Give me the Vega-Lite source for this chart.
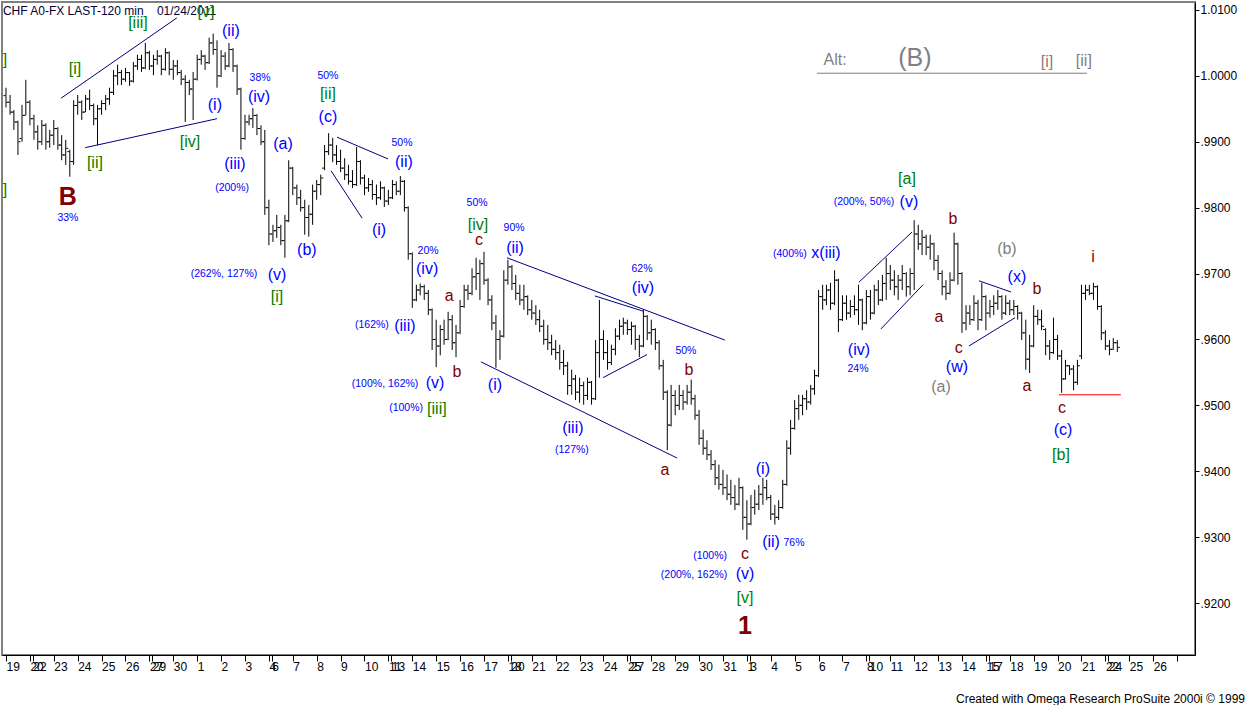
{
"$schema": "https://vega.github.io/schema/vega-lite/v6.json",
"width": 1193, "height": 653,
"autosize": {"type": "none"},
"padding": {"left": 2, "top": 2, "right": 54, "bottom": 50},
"background": "white",
"config": {"view": {"stroke": "#808080", "strokeWidth": 2}, "font": "Liberation Sans", "axis": {"labelOverlap": false}},
"title": {"text": "Created with Omega Research ProSuite 2000i © 1999", "orient": "bottom", "anchor": "end", "frame": "group", "fontSize": 12, "fontWeight": "normal", "font": "Liberation Sans Narrow, Liberation Sans", "color": "black", "offset": 22, "dx": 50},
"datasets": {
"bars": [
{"t":0,"o":0.997,"h":0.9982,"l":0.9952,"c":0.996},
{"t":0.17,"o":0.996,"h":0.9971,"l":0.9941,"c":0.9945},
{"t":0.33,"o":0.9945,"h":0.9948,"l":0.9918,"c":0.993},
{"t":0.5,"o":0.993,"h":0.9932,"l":0.988,"c":0.99},
{"t":0.67,"o":0.9905,"h":0.9956,"l":0.99,"c":0.994},
{"t":0.83,"o":0.994,"h":0.9994,"l":0.994,"c":0.996},
{"t":1,"o":0.996,"h":0.9963,"l":0.9925,"c":0.9935},
{"t":1.17,"o":0.9935,"h":0.9941,"l":0.9903,"c":0.9915},
{"t":1.33,"o":0.9915,"h":0.9925,"l":0.9888,"c":0.99},
{"t":1.5,"o":0.99,"h":0.9933,"l":0.9895,"c":0.9925},
{"t":1.67,"o":0.9925,"h":0.9928,"l":0.9888,"c":0.99},
{"t":1.83,"o":0.99,"h":0.9918,"l":0.9891,"c":0.991},
{"t":2,"o":0.991,"h":0.9933,"l":0.9895,"c":0.992},
{"t":2.17,"o":0.992,"h":0.9922,"l":0.9888,"c":0.9895},
{"t":2.33,"o":0.9895,"h":0.991,"l":0.9872,"c":0.988},
{"t":2.5,"o":0.988,"h":0.9903,"l":0.9865,"c":0.989},
{"t":2.67,"o":0.9885,"h":0.9888,"l":0.9847,"c":0.987},
{"t":2.83,"o":0.987,"h":0.9963,"l":0.9865,"c":0.9955},
{"t":3,"o":0.9955,"h":0.9971,"l":0.9941,"c":0.996},
{"t":3.17,"o":0.996,"h":0.9963,"l":0.9933,"c":0.9945},
{"t":3.33,"o":0.9945,"h":0.9971,"l":0.9945,"c":0.9965},
{"t":3.5,"o":0.9965,"h":0.9979,"l":0.9948,"c":0.9955},
{"t":3.67,"o":0.9955,"h":0.9958,"l":0.9925,"c":0.9935},
{"t":3.83,"o":0.9935,"h":0.9956,"l":0.9895,"c":0.995},
{"t":4,"o":0.995,"h":0.9963,"l":0.9941,"c":0.9958},
{"t":4.17,"o":0.9958,"h":0.9971,"l":0.9948,"c":0.9965},
{"t":4.33,"o":0.9965,"h":0.9982,"l":0.9956,"c":0.9975},
{"t":4.5,"o":0.9975,"h":1.0009,"l":0.9971,"c":1.0},
{"t":4.67,"o":1.0,"h":1.0017,"l":0.9986,"c":1.0005},
{"t":4.83,"o":1.0005,"h":1.0009,"l":0.9986,"c":0.9995},
{"t":5,"o":0.9995,"h":1.0012,"l":0.9991,"c":1.0005},
{"t":5.17,"o":1.0005,"h":1.0006,"l":0.9985,"c":0.9992},
{"t":5.33,"o":0.9992,"h":1.0021,"l":0.999,"c":1.0015},
{"t":5.5,"o":1.0015,"h":1.0032,"l":1.0009,"c":1.0025},
{"t":5.67,"o":1.0025,"h":1.0032,"l":1.0006,"c":1.0012},
{"t":5.83,"o":1.0012,"h":1.005,"l":1.001,"c":1.0035},
{"t":6,"o":1.0035,"h":1.0038,"l":1.0009,"c":1.0015},
{"t":6.17,"o":1.0015,"h":1.0032,"l":1.0001,"c":1.0025},
{"t":6.33,"o":1.0025,"h":1.0039,"l":1.0017,"c":1.003},
{"t":6.5,"o":1.003,"h":1.0032,"l":1.0001,"c":1.001},
{"t":6.67,"o":1.001,"h":1.0042,"l":1.0008,"c":1.0035},
{"t":6.83,"o":1.0035,"h":1.0037,"l":1.0001,"c":1.001},
{"t":7,"o":1.001,"h":1.0024,"l":0.9994,"c":1.0015},
{"t":7.17,"o":1.0015,"h":1.0024,"l":1.0001,"c":1.0005},
{"t":7.33,"o":1.0005,"h":1.0009,"l":0.9986,"c":0.9995},
{"t":7.5,"o":0.9995,"h":1.0001,"l":0.993,"c":0.999},
{"t":7.67,"o":0.999,"h":0.9994,"l":0.9971,"c":0.998},
{"t":7.83,"o":0.998,"h":1.0006,"l":0.9933,"c":0.9995},
{"t":8,"o":0.9995,"h":1.0032,"l":0.9993,"c":1.0025},
{"t":8.17,"o":1.0025,"h":1.0039,"l":1.0017,"c":1.003},
{"t":8.33,"o":1.003,"h":1.0032,"l":1.0009,"c":1.002},
{"t":8.5,"o":1.002,"h":1.0058,"l":1.0018,"c":1.005},
{"t":8.67,"o":1.005,"h":1.0064,"l":1.0032,"c":1.004},
{"t":8.83,"o":1.004,"h":1.0054,"l":0.9982,"c":1.0},
{"t":9,"o":1.0,"h":1.0039,"l":0.9998,"c":1.003},
{"t":9.17,"o":1.003,"h":1.0036,"l":1.0009,"c":1.0015},
{"t":9.33,"o":1.0015,"h":1.005,"l":1.0013,"c":1.004},
{"t":9.5,"o":1.004,"h":1.0042,"l":1.0006,"c":1.0015},
{"t":9.67,"o":1.0015,"h":1.0017,"l":0.9971,"c":0.998},
{"t":9.83,"o":0.998,"h":0.9982,"l":0.9888,"c":0.9905},
{"t":10,"o":0.9905,"h":0.9941,"l":0.9903,"c":0.993},
{"t":10.17,"o":0.993,"h":0.9941,"l":0.9925,"c":0.9935},
{"t":10.33,"o":0.9935,"h":0.9951,"l":0.9921,"c":0.994},
{"t":10.5,"o":0.994,"h":0.9942,"l":0.991,"c":0.992},
{"t":10.67,"o":0.992,"h":0.9925,"l":0.9895,"c":0.99},
{"t":10.83,"o":0.99,"h":0.9918,"l":0.9789,"c":0.98},
{"t":11,"o":0.98,"h":0.9812,"l":0.9743,"c":0.976},
{"t":11.17,"o":0.976,"h":0.9774,"l":0.9748,"c":0.9765},
{"t":11.33,"o":0.9765,"h":0.9789,"l":0.9754,"c":0.977},
{"t":11.5,"o":0.977,"h":0.9774,"l":0.9743,"c":0.975},
{"t":11.67,"o":0.975,"h":0.9789,"l":0.9724,"c":0.978},
{"t":11.83,"o":0.978,"h":0.9872,"l":0.9778,"c":0.986},
{"t":12,"o":0.986,"h":0.9862,"l":0.9819,"c":0.983},
{"t":12.17,"o":0.983,"h":0.9835,"l":0.9804,"c":0.9815},
{"t":12.33,"o":0.9815,"h":0.9827,"l":0.9794,"c":0.98},
{"t":12.5,"o":0.98,"h":0.9812,"l":0.9759,"c":0.9785},
{"t":12.67,"o":0.9785,"h":0.9804,"l":0.9756,"c":0.979},
{"t":12.83,"o":0.979,"h":0.9835,"l":0.9774,"c":0.9825},
{"t":13,"o":0.9825,"h":0.9842,"l":0.9812,"c":0.9835},
{"t":13.17,"o":0.9835,"h":0.985,"l":0.9819,"c":0.9845},
{"t":13.33,"o":0.986,"h":0.9895,"l":0.9857,"c":0.9885},
{"t":13.5,"o":0.9885,"h":0.9913,"l":0.988,"c":0.9895},
{"t":13.67,"o":0.9895,"h":0.9906,"l":0.9869,"c":0.988},
{"t":13.83,"o":0.988,"h":0.9895,"l":0.9865,"c":0.987},
{"t":14,"o":0.987,"h":0.9888,"l":0.9854,"c":0.986},
{"t":14.17,"o":0.986,"h":0.9875,"l":0.9842,"c":0.985},
{"t":14.33,"o":0.985,"h":0.9865,"l":0.9835,"c":0.984},
{"t":14.5,"o":0.984,"h":0.9857,"l":0.983,"c":0.9835},
{"t":14.67,"o":0.9835,"h":0.9892,"l":0.9833,"c":0.987},
{"t":14.83,"o":0.987,"h":0.9872,"l":0.9835,"c":0.9845},
{"t":15,"o":0.9845,"h":0.985,"l":0.9819,"c":0.983},
{"t":15.17,"o":0.983,"h":0.9845,"l":0.9824,"c":0.9835},
{"t":15.33,"o":0.9835,"h":0.9842,"l":0.9812,"c":0.982},
{"t":15.5,"o":0.982,"h":0.9835,"l":0.9804,"c":0.9815},
{"t":15.67,"o":0.9815,"h":0.984,"l":0.9812,"c":0.983},
{"t":15.83,"o":0.983,"h":0.9832,"l":0.9801,"c":0.981},
{"t":16,"o":0.981,"h":0.9827,"l":0.9804,"c":0.9815},
{"t":16.17,"o":0.9815,"h":0.9842,"l":0.9813,"c":0.9835},
{"t":16.33,"o":0.9835,"h":0.984,"l":0.9819,"c":0.9825},
{"t":16.5,"o":0.9825,"h":0.9848,"l":0.9819,"c":0.984},
{"t":16.67,"o":0.984,"h":0.9842,"l":0.9794,"c":0.98},
{"t":16.83,"o":0.98,"h":0.9802,"l":0.9721,"c":0.973},
{"t":17,"o":0.973,"h":0.9732,"l":0.9648,"c":0.966},
{"t":17.17,"o":0.966,"h":0.9683,"l":0.9658,"c":0.9675},
{"t":17.33,"o":0.9675,"h":0.9685,"l":0.9667,"c":0.968},
{"t":17.5,"o":0.968,"h":0.9683,"l":0.966,"c":0.967},
{"t":17.67,"o":0.967,"h":0.9675,"l":0.9637,"c":0.9645},
{"t":17.83,"o":0.9645,"h":0.9647,"l":0.9584,"c":0.96},
{"t":18,"o":0.96,"h":0.963,"l":0.9558,"c":0.959},
{"t":18.17,"o":0.959,"h":0.9622,"l":0.9576,"c":0.9615},
{"t":18.33,"o":0.9615,"h":0.963,"l":0.9592,"c":0.96},
{"t":18.5,"o":0.96,"h":0.9642,"l":0.9599,"c":0.963},
{"t":18.67,"o":0.963,"h":0.9637,"l":0.9584,"c":0.9595},
{"t":18.83,"o":0.9595,"h":0.9622,"l":0.9573,"c":0.961},
{"t":19,"o":0.961,"h":0.966,"l":0.9608,"c":0.965},
{"t":19.17,"o":0.965,"h":0.9683,"l":0.9648,"c":0.9675},
{"t":19.33,"o":0.9675,"h":0.9683,"l":0.966,"c":0.967},
{"t":19.5,"o":0.967,"h":0.9708,"l":0.9667,"c":0.9695},
{"t":19.67,"o":0.9695,"h":0.9724,"l":0.9675,"c":0.97},
{"t":19.83,"o":0.97,"h":0.9721,"l":0.966,"c":0.9715},
{"t":20,"o":0.9715,"h":0.9733,"l":0.9683,"c":0.969},
{"t":20.17,"o":0.969,"h":0.9693,"l":0.9652,"c":0.966},
{"t":20.33,"o":0.966,"h":0.9667,"l":0.9614,"c":0.9625},
{"t":20.5,"o":0.9625,"h":0.9637,"l":0.9557,"c":0.96},
{"t":20.67,"o":0.96,"h":0.9614,"l":0.9569,"c":0.9605},
{"t":20.83,"o":0.9605,"h":0.9705,"l":0.9603,"c":0.969},
{"t":21,"o":0.969,"h":0.9721,"l":0.9683,"c":0.971},
{"t":21.17,"o":0.971,"h":0.9713,"l":0.9675,"c":0.9685},
{"t":21.33,"o":0.9685,"h":0.9698,"l":0.966,"c":0.967},
{"t":21.5,"o":0.967,"h":0.9683,"l":0.9652,"c":0.966},
{"t":21.67,"o":0.966,"h":0.9683,"l":0.9645,"c":0.9665},
{"t":21.83,"o":0.9665,"h":0.9667,"l":0.9637,"c":0.9645},
{"t":22,"o":0.9645,"h":0.966,"l":0.963,"c":0.964},
{"t":22.17,"o":0.964,"h":0.9652,"l":0.9622,"c":0.963},
{"t":22.33,"o":0.963,"h":0.9645,"l":0.9611,"c":0.962},
{"t":22.5,"o":0.962,"h":0.963,"l":0.9592,"c":0.96},
{"t":22.67,"o":0.96,"h":0.9622,"l":0.9584,"c":0.9595},
{"t":22.83,"o":0.9595,"h":0.9607,"l":0.9576,"c":0.9585},
{"t":23,"o":0.9585,"h":0.9599,"l":0.9569,"c":0.958},
{"t":23.17,"o":0.958,"h":0.9592,"l":0.9554,"c":0.9565},
{"t":23.33,"o":0.9565,"h":0.9584,"l":0.9546,"c":0.956},
{"t":23.5,"o":0.956,"h":0.9566,"l":0.9516,"c":0.953},
{"t":23.67,"o":0.953,"h":0.9554,"l":0.9516,"c":0.954},
{"t":23.83,"o":0.954,"h":0.9546,"l":0.9508,"c":0.952},
{"t":24,"o":0.952,"h":0.9542,"l":0.9504,"c":0.953},
{"t":24.17,"o":0.953,"h":0.9536,"l":0.9501,"c":0.9515},
{"t":24.33,"o":0.9515,"h":0.9542,"l":0.9508,"c":0.9535},
{"t":24.5,"o":0.9535,"h":0.9537,"l":0.9501,"c":0.951},
{"t":24.67,"o":0.951,"h":0.9599,"l":0.9508,"c":0.958},
{"t":24.83,"o":0.958,"h":0.966,"l":0.9542,"c":0.96},
{"t":25,"o":0.96,"h":0.9614,"l":0.9569,"c":0.958},
{"t":25.17,"o":0.958,"h":0.9599,"l":0.9554,"c":0.9565},
{"t":25.33,"o":0.9565,"h":0.9592,"l":0.9561,"c":0.9585},
{"t":25.5,"o":0.9585,"h":0.9617,"l":0.9576,"c":0.9605},
{"t":25.67,"o":0.9605,"h":0.963,"l":0.9599,"c":0.962},
{"t":25.83,"o":0.962,"h":0.9633,"l":0.9607,"c":0.9625},
{"t":26,"o":0.9625,"h":0.963,"l":0.9607,"c":0.9615},
{"t":26.17,"o":0.9615,"h":0.9627,"l":0.9592,"c":0.962},
{"t":26.33,"o":0.962,"h":0.9622,"l":0.9584,"c":0.96},
{"t":26.5,"o":0.96,"h":0.9607,"l":0.9573,"c":0.959},
{"t":26.67,"o":0.959,"h":0.9645,"l":0.9588,"c":0.9635},
{"t":26.83,"o":0.9635,"h":0.9637,"l":0.9599,"c":0.961},
{"t":27,"o":0.961,"h":0.963,"l":0.9592,"c":0.9615},
{"t":27.17,"o":0.9615,"h":0.9617,"l":0.9584,"c":0.9595},
{"t":27.33,"o":0.9595,"h":0.9599,"l":0.9554,"c":0.956},
{"t":27.5,"o":0.956,"h":0.9569,"l":0.9508,"c":0.952},
{"t":27.67,"o":0.952,"h":0.9523,"l":0.9432,"c":0.947},
{"t":27.83,"o":0.947,"h":0.9531,"l":0.9468,"c":0.9515},
{"t":28,"o":0.9515,"h":0.9523,"l":0.9485,"c":0.95},
{"t":28.17,"o":0.95,"h":0.9531,"l":0.9493,"c":0.9515},
{"t":28.33,"o":0.9515,"h":0.9523,"l":0.9493,"c":0.9505},
{"t":28.5,"o":0.9505,"h":0.9531,"l":0.9501,"c":0.952},
{"t":28.67,"o":0.952,"h":0.9539,"l":0.9501,"c":0.951},
{"t":28.83,"o":0.951,"h":0.9516,"l":0.9478,"c":0.9485},
{"t":29,"o":0.9485,"h":0.9493,"l":0.944,"c":0.945},
{"t":29.17,"o":0.945,"h":0.9463,"l":0.9425,"c":0.9435},
{"t":29.33,"o":0.9435,"h":0.9447,"l":0.9417,"c":0.9425},
{"t":29.5,"o":0.9425,"h":0.9432,"l":0.9402,"c":0.941},
{"t":29.67,"o":0.941,"h":0.9417,"l":0.9379,"c":0.939},
{"t":29.83,"o":0.939,"h":0.941,"l":0.9372,"c":0.938},
{"t":30,"o":0.938,"h":0.9402,"l":0.9364,"c":0.9375},
{"t":30.17,"o":0.9375,"h":0.9395,"l":0.9356,"c":0.9365},
{"t":30.33,"o":0.9365,"h":0.9387,"l":0.9349,"c":0.936},
{"t":30.5,"o":0.936,"h":0.9379,"l":0.9341,"c":0.935},
{"t":30.67,"o":0.935,"h":0.939,"l":0.9348,"c":0.9375},
{"t":30.83,"o":0.9375,"h":0.9377,"l":0.9311,"c":0.933},
{"t":31,"o":0.933,"h":0.9356,"l":0.9296,"c":0.932},
{"t":31.17,"o":0.932,"h":0.9364,"l":0.9318,"c":0.9345},
{"t":31.33,"o":0.9345,"h":0.9372,"l":0.9334,"c":0.935},
{"t":31.5,"o":0.935,"h":0.9379,"l":0.9341,"c":0.9365},
{"t":31.67,"o":0.9365,"h":0.939,"l":0.9349,"c":0.9375},
{"t":31.83,"o":0.9375,"h":0.9387,"l":0.9356,"c":0.936},
{"t":32,"o":0.936,"h":0.9364,"l":0.9326,"c":0.9335},
{"t":32.17,"o":0.9335,"h":0.9349,"l":0.9319,"c":0.933},
{"t":32.33,"o":0.933,"h":0.9356,"l":0.9326,"c":0.9345},
{"t":32.5,"o":0.9345,"h":0.9387,"l":0.9343,"c":0.938},
{"t":32.67,"o":0.938,"h":0.9447,"l":0.9378,"c":0.9435},
{"t":32.83,"o":0.9435,"h":0.9478,"l":0.9425,"c":0.9465},
{"t":33,"o":0.9465,"h":0.9508,"l":0.9463,"c":0.9495},
{"t":33.17,"o":0.9495,"h":0.9516,"l":0.9478,"c":0.95},
{"t":33.33,"o":0.95,"h":0.9516,"l":0.9485,"c":0.951},
{"t":33.5,"o":0.951,"h":0.9523,"l":0.9493,"c":0.9505},
{"t":33.67,"o":0.9505,"h":0.9531,"l":0.9501,"c":0.9525},
{"t":33.83,"o":0.9525,"h":0.9554,"l":0.9516,"c":0.9545},
{"t":34,"o":0.9545,"h":0.9675,"l":0.9543,"c":0.9665},
{"t":34.17,"o":0.9665,"h":0.9683,"l":0.9645,"c":0.966},
{"t":34.33,"o":0.966,"h":0.9683,"l":0.9652,"c":0.9675},
{"t":34.5,"o":0.9675,"h":0.9686,"l":0.9645,"c":0.9655},
{"t":34.67,"o":0.9655,"h":0.9705,"l":0.9652,"c":0.969},
{"t":34.83,"o":0.969,"h":0.9692,"l":0.9611,"c":0.963},
{"t":35,"o":0.963,"h":0.9667,"l":0.9628,"c":0.9655},
{"t":35.17,"o":0.9655,"h":0.9667,"l":0.963,"c":0.964},
{"t":35.33,"o":0.964,"h":0.966,"l":0.9633,"c":0.965},
{"t":35.5,"o":0.965,"h":0.9667,"l":0.9637,"c":0.9645},
{"t":35.67,"o":0.9645,"h":0.9683,"l":0.9622,"c":0.966},
{"t":35.83,"o":0.966,"h":0.9662,"l":0.9614,"c":0.9625},
{"t":36,"o":0.9625,"h":0.9675,"l":0.9623,"c":0.9665},
{"t":36.17,"o":0.9665,"h":0.9675,"l":0.963,"c":0.964},
{"t":36.33,"o":0.964,"h":0.9683,"l":0.9638,"c":0.9675},
{"t":36.5,"o":0.9675,"h":0.969,"l":0.9652,"c":0.966},
{"t":36.67,"o":0.966,"h":0.9698,"l":0.9658,"c":0.9685},
{"t":36.83,"o":0.9685,"h":0.9724,"l":0.966,"c":0.97},
{"t":37,"o":0.97,"h":0.9713,"l":0.9675,"c":0.969},
{"t":37.17,"o":0.969,"h":0.9705,"l":0.9667,"c":0.968},
{"t":37.33,"o":0.968,"h":0.9698,"l":0.966,"c":0.969},
{"t":37.5,"o":0.969,"h":0.9713,"l":0.9675,"c":0.97},
{"t":37.67,"o":0.97,"h":0.9702,"l":0.9665,"c":0.968},
{"t":37.83,"o":0.968,"h":0.9708,"l":0.9667,"c":0.97},
{"t":38,"o":0.97,"h":0.9781,"l":0.9675,"c":0.976},
{"t":38.17,"o":0.976,"h":0.9774,"l":0.9736,"c":0.9745},
{"t":38.33,"o":0.9745,"h":0.9766,"l":0.9728,"c":0.9755},
{"t":38.5,"o":0.9755,"h":0.9759,"l":0.9728,"c":0.974},
{"t":38.67,"o":0.974,"h":0.9759,"l":0.9721,"c":0.9745},
{"t":38.83,"o":0.9745,"h":0.9747,"l":0.9705,"c":0.972},
{"t":39,"o":0.972,"h":0.9728,"l":0.969,"c":0.97},
{"t":39.17,"o":0.97,"h":0.9705,"l":0.9667,"c":0.968},
{"t":39.33,"o":0.968,"h":0.969,"l":0.966,"c":0.967},
{"t":39.5,"o":0.967,"h":0.9702,"l":0.9668,"c":0.969},
{"t":39.67,"o":0.969,"h":0.9762,"l":0.9688,"c":0.9745},
{"t":39.83,"o":0.9745,"h":0.9747,"l":0.9683,"c":0.97},
{"t":40,"o":0.97,"h":0.9702,"l":0.961,"c":0.9625},
{"t":40.17,"o":0.9625,"h":0.9652,"l":0.9614,"c":0.964},
{"t":40.33,"o":0.964,"h":0.9652,"l":0.9622,"c":0.963},
{"t":40.5,"o":0.963,"h":0.9667,"l":0.9628,"c":0.9655},
{"t":40.67,"o":0.9655,"h":0.966,"l":0.9614,"c":0.963},
{"t":40.83,"o":0.963,"h":0.9686,"l":0.9628,"c":0.9665},
{"t":41,"o":0.9665,"h":0.9667,"l":0.9614,"c":0.964},
{"t":41.17,"o":0.964,"h":0.966,"l":0.9633,"c":0.965},
{"t":41.33,"o":0.965,"h":0.9667,"l":0.9637,"c":0.9655},
{"t":41.5,"o":0.9655,"h":0.9675,"l":0.9645,"c":0.9665},
{"t":41.67,"o":0.9665,"h":0.9667,"l":0.963,"c":0.964},
{"t":41.83,"o":0.964,"h":0.9667,"l":0.9637,"c":0.9655},
{"t":42,"o":0.9655,"h":0.966,"l":0.9637,"c":0.9645},
{"t":42.17,"o":0.9645,"h":0.966,"l":0.9637,"c":0.965},
{"t":42.33,"o":0.965,"h":0.9652,"l":0.963,"c":0.964},
{"t":42.5,"o":0.964,"h":0.9642,"l":0.9599,"c":0.961},
{"t":42.67,"o":0.961,"h":0.963,"l":0.9554,"c":0.957},
{"t":42.83,"o":0.957,"h":0.9607,"l":0.9549,"c":0.959},
{"t":43,"o":0.959,"h":0.9652,"l":0.9588,"c":0.9635},
{"t":43.17,"o":0.9635,"h":0.9645,"l":0.9622,"c":0.963},
{"t":43.33,"o":0.963,"h":0.9645,"l":0.9614,"c":0.962},
{"t":43.5,"o":0.9615,"h":0.9617,"l":0.9576,"c":0.959},
{"t":43.67,"o":0.959,"h":0.9599,"l":0.9569,"c":0.958},
{"t":43.83,"o":0.958,"h":0.9633,"l":0.9578,"c":0.96},
{"t":44,"o":0.96,"h":0.9607,"l":0.9569,"c":0.9575},
{"t":44.17,"o":0.9575,"h":0.9584,"l":0.9519,"c":0.954},
{"t":44.33,"o":0.954,"h":0.9569,"l":0.9539,"c":0.956},
{"t":44.5,"o":0.956,"h":0.9561,"l":0.9546,"c":0.9555},
{"t":44.67,"o":0.9555,"h":0.9561,"l":0.9523,"c":0.9535},
{"t":44.83,"o":0.9535,"h":0.9569,"l":0.9531,"c":0.956},
{"t":45,"o":0.9575,"h":0.9683,"l":0.957,"c":0.967},
{"t":45.17,"o":0.967,"h":0.9683,"l":0.966,"c":0.9675},
{"t":45.33,"o":0.9675,"h":0.9683,"l":0.9667,"c":0.967},
{"t":45.5,"o":0.967,"h":0.9686,"l":0.966,"c":0.968},
{"t":45.67,"o":0.968,"h":0.9682,"l":0.9645,"c":0.965},
{"t":45.83,"o":0.965,"h":0.9652,"l":0.9599,"c":0.961},
{"t":46,"o":0.961,"h":0.9614,"l":0.9584,"c":0.959},
{"t":46.17,"o":0.959,"h":0.9599,"l":0.9576,"c":0.9585},
{"t":46.33,"o":0.9585,"h":0.9602,"l":0.9584,"c":0.9595},
{"t":46.5,"o":0.9595,"h":0.9599,"l":0.9581,"c":0.9588}
],
"lines": [
{"id":1,"k":"n","t":2.30,"p":0.9966},{"id":1,"k":"n","t":7.15,"p":1.0088},
{"id":2,"k":"n","t":3.31,"p":0.9891},{"id":2,"k":"n","t":8.83,"p":0.9935},
{"id":3,"k":"n","t":13.85,"p":0.9907},{"id":3,"k":"n","t":15.98,"p":0.9874},
{"id":4,"k":"n","t":13.60,"p":0.9856},{"id":4,"k":"n","t":14.90,"p":0.9784},
{"id":5,"k":"n","t":20.96,"p":0.9724},{"id":5,"k":"n","t":30.08,"p":0.9599},
{"id":6,"k":"n","t":19.87,"p":0.9566},{"id":6,"k":"n","t":28.08,"p":0.9420},
{"id":7,"k":"n","t":24.64,"p":0.9666},{"id":7,"k":"n","t":26.65,"p":0.9643},
{"id":8,"k":"n","t":24.98,"p":0.9542},{"id":8,"k":"n","t":26.82,"p":0.9577},
{"id":9,"k":"n","t":35.69,"p":0.9687},{"id":9,"k":"n","t":37.91,"p":0.9763},
{"id":10,"k":"n","t":36.61,"p":0.9616},{"id":10,"k":"n","t":38.37,"p":0.9683},
{"id":11,"k":"n","t":40.71,"p":0.9689},{"id":11,"k":"n","t":42.05,"p":0.9672},
{"id":12,"k":"n","t":40.29,"p":0.9590},{"id":12,"k":"n","t":42.22,"p":0.9633},
{"id":13,"k":"r","t":44.06,"p":0.9516},{"id":13,"k":"r","t":46.65,"p":0.9516},
{"id":14,"k":"g","t":33.93,"p":1.0004},{"id":14,"k":"g","t":45.23,"p":1.0004}
],
"labels": [
{"k":"T","t":-0.13,"p":1.0099,"s":"CHF A0-FX LAST-120 min\u00a0\u00a0\u00a0\u00a001/24/2011"},
{"k":"g","t":-0.04,"p":1.0024,"s":"]"},
{"k":"g","t":-0.04,"p":0.9827,"s":"]"},
{"k":"g","t":5.52,"p":1.0080,"s":"[iii]"},
{"k":"g","t":8.37,"p":1.0097,"s":"[v]"},
{"k":"g","t":2.89,"p":1.001,"s":"[i]"},
{"k":"g","t":13.47,"p":0.9973,"s":"[ii]"},
{"k":"g","t":7.7,"p":0.99,"s":"[iv]"},
{"k":"g","t":3.72,"p":0.9868,"s":"[ii]"},
{"k":"g","t":11.34,"p":0.9665,"s":"[i]"},
{"k":"g","t":18.03,"p":0.9495,"s":"[iii]"},
{"k":"g","t":19.75,"p":0.9774,"s":"[iv]"},
{"k":"g","t":30.92,"p":0.9208,"s":"[v]"},
{"k":"g","t":37.7,"p":0.9844,"s":"[a]"},
{"k":"g","t":44.14,"p":0.9425,"s":"[b]"},
{"k":"b","t":9.41,"p":1.0068,"s":"(ii)"},
{"k":"b","t":10.59,"p":0.9968,"s":"(iv)"},
{"k":"b","t":8.74,"p":0.9956,"s":"(i)"},
{"k":"b","t":13.47,"p":0.9938,"s":"(c)"},
{"k":"b","t":11.59,"p":0.9897,"s":"(a)"},
{"k":"b","t":16.65,"p":0.987,"s":"(ii)"},
{"k":"b","t":9.58,"p":0.9866,"s":"(iii)"},
{"k":"b","t":15.61,"p":0.9766,"s":"(i)"},
{"k":"b","t":12.59,"p":0.9736,"s":"(b)"},
{"k":"b","t":11.34,"p":0.9698,"s":"(v)"},
{"k":"b","t":16.69,"p":0.9621,"s":"(iii)"},
{"k":"b","t":17.95,"p":0.9534,"s":"(v)"},
{"k":"b","t":21.3,"p":0.9739,"s":"(ii)"},
{"k":"b","t":17.62,"p":0.9707,"s":"(iv)"},
{"k":"b","t":26.65,"p":0.9678,"s":"(iv)"},
{"k":"b","t":20.46,"p":0.9531,"s":"(i)"},
{"k":"b","t":34.31,"p":0.9731,"s":"x(iii)"},
{"k":"b","t":23.72,"p":0.9466,"s":"(iii)"},
{"k":"b","t":31.67,"p":0.9403,"s":"(i)"},
{"k":"b","t":32.01,"p":0.9293,"s":"(ii)"},
{"k":"b","t":30.92,"p":0.9244,"s":"(v)"},
{"k":"b","t":37.78,"p":0.9809,"s":"(v)"},
{"k":"b","t":42.3,"p":0.9695,"s":"(x)"},
{"k":"b","t":35.69,"p":0.9584,"s":"(iv)"},
{"k":"b","t":39.79,"p":0.9558,"s":"(w)"},
{"k":"b","t":44.23,"p":0.9463,"s":"(c)"},
{"k":"p","t":10.63,"p":0.9997,"s":"38%"},
{"k":"p","t":13.47,"p":1.0,"s":"50%"},
{"k":"p","t":16.57,"p":0.9898,"s":"50%"},
{"k":"p","t":9.46,"p":0.983,"s":"(200%)"},
{"k":"p","t":2.59,"p":0.9785,"s":"33%"},
{"k":"p","t":9.12,"p":0.9699,"s":"(262%, 127%)"},
{"k":"p","t":15.31,"p":0.9622,"s":"(162%)"},
{"k":"p","t":15.86,"p":0.9532,"s":"(100%, 162%)"},
{"k":"p","t":16.74,"p":0.9496,"s":"(100%)"},
{"k":"p","t":19.71,"p":0.9807,"s":"50%"},
{"k":"p","t":21.26,"p":0.9769,"s":"90%"},
{"k":"p","t":17.66,"p":0.9734,"s":"20%"},
{"k":"p","t":26.61,"p":0.9707,"s":"62%"},
{"k":"p","t":28.45,"p":0.9583,"s":"50%"},
{"k":"p","t":32.8,"p":0.973,"s":"(400%)"},
{"k":"p","t":23.68,"p":0.9432,"s":"(127%)"},
{"k":"p","t":32.97,"p":0.9291,"s":"76%"},
{"k":"p","t":29.46,"p":0.9272,"s":"(100%)"},
{"k":"p","t":28.79,"p":0.9243,"s":"(200%, 162%)"},
{"k":"p","t":35.9,"p":0.9809,"s":"(200%, 50%)"},
{"k":"p","t":35.65,"p":0.9555,"s":"24%"},
{"k":"r","t":19.79,"p":0.9751,"s":"c"},
{"k":"r","t":18.54,"p":0.9666,"s":"a"},
{"k":"r","t":18.87,"p":0.9551,"s":"b"},
{"k":"r","t":28.58,"p":0.9554,"s":"b"},
{"k":"r","t":27.57,"p":0.9402,"s":"a"},
{"k":"r","t":30.92,"p":0.9275,"s":"c"},
{"k":"r","t":39.62,"p":0.9783,"s":"b"},
{"k":"r","t":45.48,"p":0.9725,"s":"i"},
{"k":"r","t":43.14,"p":0.9677,"s":"b"},
{"k":"r","t":39.04,"p":0.9634,"s":"a"},
{"k":"r","t":39.87,"p":0.9587,"s":"c"},
{"k":"r","t":42.72,"p":0.9529,"s":"a"},
{"k":"r","t":44.18,"p":0.9496,"s":"c"},
{"k":"R","t":2.59,"p":0.9816,"s":"B"},
{"k":"R","t":30.92,"p":0.9165,"s":"1"},
{"k":"y","t":34.69,"p":1.0024,"s":"Alt:"},
{"k":"y","t":43.56,"p":1.0021,"s":"[i]"},
{"k":"y","t":45.1,"p":1.0023,"s":"[ii]"},
{"k":"y","t":39.12,"p":0.9528,"s":"(a)"},
{"k":"y","t":41.88,"p":0.9737,"s":"(b)"},
{"k":"Y","t":38.03,"p":1.0027,"s":"(B)"}
]
},
"layer": [
{"data": {"name": "bars"},
 "mark": {"type": "rule", "color": "black", "strokeWidth": 1},
 "encoding": {
  "x": {"field": "t", "type": "quantitative", "scale": {"domain": [-0.167, 49.75], "nice": false, "zero": false},
   "axis": {"orient": "bottom", "title": null, "grid": false, "tickCount": 200,
    "values": [0,1,1.12,2,3,4,5,6,6.12,7,8,9,10,11,11.12,12,13,14,15,16,16.12,17,18,19,20,21,21.12,22,23,24,25,26,26.12,27,28,29,30,31,31.12,32,33,34,35,36,36.12,37,38,39,40,41,41.12,42,43,44,45,46,46.12,47,48,49],
    "labelExpr": "['19','20','22','23','24','25','26','27','29','30','1','2','3','4','6','7','8','9','10','11','13','14','15','16','17','18','20','21','22','23','24','25','27','28','29','30','31','1','3','4','5','6','7','8','10','11','12','13','14','15','17','18','19','20','21','22','24','25','26',''][indexof([0,1,1.12,2,3,4,5,6,6.12,7,8,9,10,11,11.12,12,13,14,15,16,16.12,17,18,19,20,21,21.12,22,23,24,25,26,26.12,27,28,29,30,31,31.12,32,33,34,35,36,36.12,37,38,39,40,41,41.12,42,43,44,45,46,46.12,47,48,49], datum.value)]",
    "domainColor": "black", "tickColor": "black", "tickSize": 6, "labelColor": "black", "labelFontSize": 12, "labelFont": "Liberation Sans",
    "labelAlign": "left", "labelBaseline": "top", "labelPadding": 0, "labelDx": 2, "labelOverlap": false, "labelFlush": false, "labelBound": false}},
  "y": {"field": "l", "type": "quantitative", "scale": {"domain": [0.91211, 1.01121], "nice": false, "zero": false},
   "axis": {"orient": "right", "title": null, "grid": false, "tickCount": 50, "values": [0.92,0.93,0.94,0.95,0.96,0.97,0.98,0.99,1.0,1.01],
    "labelExpr": "datum.value > 0.9995 ? format(datum.value, '.4f') : substring(format(datum.value, '.4f'), 1)",
    "domainColor": "black", "tickColor": "black", "tickSize": 4, "labelColor": "black", "labelFontSize": 12, "labelFont": "Liberation Sans", "labelPadding": 1, "labelOverlap": false}},
  "y2": {"field": "h"}
 }},
{"data": {"name": "bars"},
 "mark": {"type": "tick", "orient": "horizontal", "size": 2, "thickness": 1, "xOffset": -1.5, "color": "black", "opacity": 1},
 "encoding": {"x": {"field": "t", "type": "quantitative", "axis": {"orient": "bottom"}}, "y": {"field": "o", "type": "quantitative", "axis": {"orient": "right"}}}},
{"data": {"name": "bars"},
 "mark": {"type": "tick", "orient": "horizontal", "size": 2, "thickness": 1, "xOffset": 1.5, "color": "black", "opacity": 1},
 "encoding": {"x": {"field": "t", "type": "quantitative", "axis": {"orient": "bottom"}}, "y": {"field": "c", "type": "quantitative", "axis": {"orient": "right"}}}},
{"data": {"name": "lines"},
 "mark": {"type": "line", "strokeWidth": 1},
 "encoding": {"x": {"field": "t", "type": "quantitative", "axis": {"orient": "bottom"}}, "y": {"field": "p", "type": "quantitative", "axis": {"orient": "right"}}, "detail": {"field": "id"},
  "color": {"field": "k", "type": "nominal", "scale": {"domain": ["n","r","g"], "range": ["#000080","#FF0000","#808080"]}, "legend": null}}},
{"data": {"name": "labels"}, "transform": [{"filter": "datum.k == 'T'"}],
 "mark": {"type": "text", "align": "left", "baseline": "middle", "fontSize": 12, "color": "#000033", "font": "Liberation Sans"},
 "encoding": {"x": {"field": "t", "type": "quantitative", "axis": {"orient": "bottom"}}, "y": {"field": "p", "type": "quantitative", "axis": {"orient": "right"}}, "text": {"field": "s"}}},
{"data": {"name": "labels"}, "transform": [{"filter": "datum.k == 'g'"}],
 "mark": {"type": "text", "align": "center", "baseline": "middle", "fontSize": 16, "color": "#008000", "font": "Liberation Sans"},
 "encoding": {"x": {"field": "t", "type": "quantitative", "axis": {"orient": "bottom"}}, "y": {"field": "p", "type": "quantitative", "axis": {"orient": "right"}}, "text": {"field": "s"}}},
{"data": {"name": "labels"}, "transform": [{"filter": "datum.k == 'b'"}],
 "mark": {"type": "text", "align": "center", "baseline": "middle", "fontSize": 16, "color": "#0000FF", "font": "Liberation Sans"},
 "encoding": {"x": {"field": "t", "type": "quantitative", "axis": {"orient": "bottom"}}, "y": {"field": "p", "type": "quantitative", "axis": {"orient": "right"}}, "text": {"field": "s"}}},
{"data": {"name": "labels"}, "transform": [{"filter": "datum.k == 'p'"}],
 "mark": {"type": "text", "align": "center", "baseline": "middle", "fontSize": 10.5, "color": "#0000FF", "font": "Liberation Sans"},
 "encoding": {"x": {"field": "t", "type": "quantitative", "axis": {"orient": "bottom"}}, "y": {"field": "p", "type": "quantitative", "axis": {"orient": "right"}}, "text": {"field": "s"}}},
{"data": {"name": "labels"}, "transform": [{"filter": "datum.k == 'r'"}],
 "mark": {"type": "text", "align": "center", "baseline": "middle", "fontSize": 16, "color": "#800000", "font": "Liberation Sans"},
 "encoding": {"x": {"field": "t", "type": "quantitative", "axis": {"orient": "bottom"}}, "y": {"field": "p", "type": "quantitative", "axis": {"orient": "right"}}, "text": {"field": "s"}}},
{"data": {"name": "labels"}, "transform": [{"filter": "datum.k == 'R'"}],
 "mark": {"type": "text", "align": "center", "baseline": "middle", "fontSize": 25, "fontWeight": "bold", "color": "#800000", "font": "Liberation Sans"},
 "encoding": {"x": {"field": "t", "type": "quantitative", "axis": {"orient": "bottom"}}, "y": {"field": "p", "type": "quantitative", "axis": {"orient": "right"}}, "text": {"field": "s"}}},
{"data": {"name": "labels"}, "transform": [{"filter": "datum.k == 'y'"}],
 "mark": {"type": "text", "align": "center", "baseline": "middle", "fontSize": 16, "color": "#808080", "font": "Liberation Sans"},
 "encoding": {"x": {"field": "t", "type": "quantitative", "axis": {"orient": "bottom"}}, "y": {"field": "p", "type": "quantitative", "axis": {"orient": "right"}}, "text": {"field": "s"}}},
{"data": {"name": "labels"}, "transform": [{"filter": "datum.k == 'Y'"}],
 "mark": {"type": "text", "align": "center", "baseline": "middle", "fontSize": 25, "color": "#808080", "font": "Liberation Sans"},
 "encoding": {"x": {"field": "t", "type": "quantitative", "axis": {"orient": "bottom"}}, "y": {"field": "p", "type": "quantitative", "axis": {"orient": "right"}}, "text": {"field": "s"}}}
]
}
